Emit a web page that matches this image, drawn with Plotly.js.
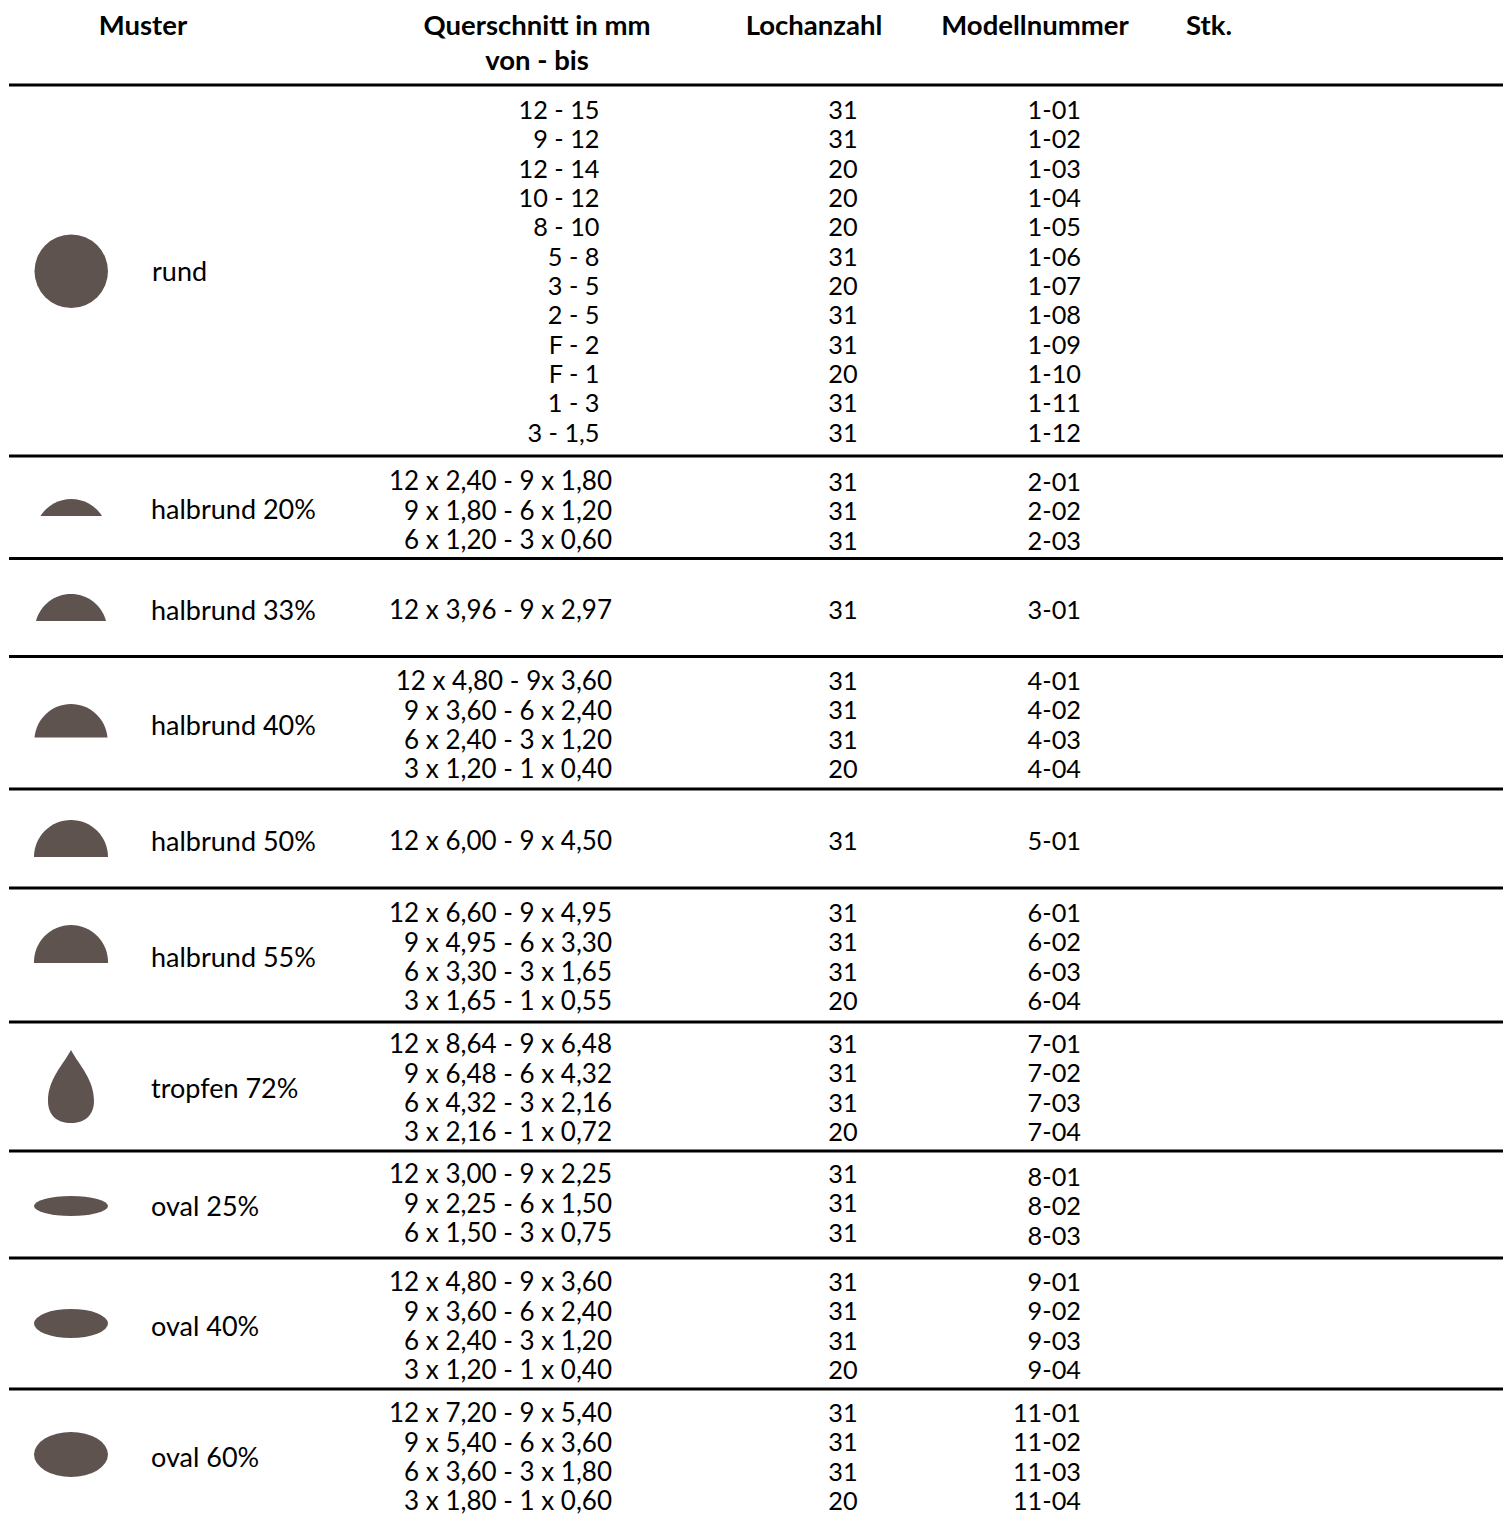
<!DOCTYPE html>
<html><head><meta charset="utf-8">
<script src="https://cdn.plot.ly/plotly-3.0.1.min.js"></script>
<style>html,body{margin:0;padding:0;background:#fff}</style></head>
<body><div id="chart" style="width:1504px;height:1515px"></div>
<script>
// ---- data ----
const headers = ["Muster","Querschnitt in mm","von - bis","Lochanzahl","Modellnummer","Stk."];
const patterns = ["rund","halbrund 20%","halbrund 33%","halbrund 40%","halbrund 50%","halbrund 55%","tropfen 72%","oval 25%","oval 40%","oval 60%"];
const sections = [
 ["12 - 15","9 - 12","12 - 14","10 - 12","8 - 10","5 - 8","3 - 5","2 - 5","F - 2","F - 1","1 - 3","3 - 1,5"],
 ["12 x 2,40 - 9 x 1,80","9 x 1,80 - 6 x 1,20","6 x 1,20 - 3 x 0,60"],
 ["12 x 3,96 - 9 x 2,97"],
 ["12 x 4,80 - 9x 3,60","9 x 3,60 - 6 x 2,40","6 x 2,40 - 3 x 1,20","3 x 1,20 - 1 x 0,40"],
 ["12 x 6,00 - 9 x 4,50"],
 ["12 x 6,60 - 9 x 4,95","9 x 4,95 - 6 x 3,30","6 x 3,30 - 3 x 1,65","3 x 1,65 - 1 x 0,55"],
 ["12 x 8,64 - 9 x 6,48","9 x 6,48 - 6 x 4,32","6 x 4,32 - 3 x 2,16","3 x 2,16 - 1 x 0,72"],
 ["12 x 3,00 - 9 x 2,25","9 x 2,25 - 6 x 1,50","6 x 1,50 - 3 x 0,75"],
 ["12 x 4,80 - 9 x 3,60","9 x 3,60 - 6 x 2,40","6 x 2,40 - 3 x 1,20","3 x 1,20 - 1 x 0,40"],
 ["12 x 7,20 - 9 x 5,40","9 x 5,40 - 6 x 3,60","6 x 3,60 - 3 x 1,80","3 x 1,80 - 1 x 0,60"]
];
const holes = [
 [31,31,20,20,20,31,20,31,31,20,31,31],[31,31,31],[31],[31,31,31,20],[31],
 [31,31,31,20],[31,31,31,20],[31,31,31],[31,31,31,20],[31,31,31,20]
];
const models = [
 ["1-01","1-02","1-03","1-04","1-05","1-06","1-07","1-08","1-09","1-10","1-11","1-12"],
 ["2-01","2-02","2-03"],["3-01"],["4-01","4-02","4-03","4-04"],["5-01"],
 ["6-01","6-02","6-03","6-04"],["7-01","7-02","7-03","7-04"],["8-01","8-02","8-03"],
 ["9-01","9-02","9-03","9-04"],["11-01","11-02","11-03","11-04"]
];

// ---- placement ----
const W = 1504, H = 1515, PITCH = 29.33, DY = 2.8;
const INK = "#000000", BROWN = "#5f5350";
const FONT = "Lato, Carlito, sans-serif";
const HEAD_SIZE = 27.5, LABEL_SIZE = 27, BODY_SIZE = 25.3, CROSS_SIZE = 26;
const headerX = [143,537,537,814,1035,1209], headerY = [25.5,25.5,60.5,25.5,25.5,25.5];
const rulesY = [85,456,558.5,656.5,789,888,1022,1151,1258,1389];
const labelY = [271.5,509,610,725,841,957,1088,1206,1326,1457];
const crossY = [110,481,610,681,841,913,1044,1174,1282,1413];
const holeY  = [110,482,610,681,841,913,1044,1174,1282,1413];
const modelY = [110,482,610,681,841,913,1044,1177,1282,1413];
const crossRight = [599.5,612,612,612,612,612,612,612,612,612];

function expand(list, starts){
  const xs=[], ys=[], ts=[];
  list.forEach((rows,s)=>rows.forEach((t,i)=>{ ys.push(starts[s]+i*PITCH); ts.push(String(t)); xs.push(s); }));
  return {sec:xs, y:ys, text:ts};
}
function textTrace(x,y,text,pos,size,bold){
  return {type:"scatter",mode:"text",x,y:y.map(v=>v+DY),text,textposition:pos,cliponaxis:false,hoverinfo:"skip",showlegend:false,
    textfont:{family:FONT,size,color:INK,weight:bold?700:400}};
}
const cross = expand(sections,crossY), hole = expand(holes,holeY), model = expand(models,modelY);
const rundOnly = s=>s===0;
const pick = (o,f)=>{const k=o.sec.map((s,i)=>f(s)?i:-1).filter(i=>i>=0);return {sec:k.map(i=>o.sec[i]),y:k.map(i=>o.y[i]),text:k.map(i=>o.text[i])};};
const crossA = pick(cross,rundOnly), crossB = pick(cross,s=>!rundOnly(s));
const data = [
  textTrace(headerX,headerY,headers,"middle center",HEAD_SIZE,true),
  textTrace(patterns.map((_,i)=>i===0?152:151),labelY,patterns,"middle right",LABEL_SIZE,false),
  textTrace(crossA.sec.map(s=>crossRight[s]),crossA.y,crossA.text,"middle left",BODY_SIZE,false),
  textTrace(crossB.sec.map(s=>crossRight[s]),crossB.y,crossB.text,"middle left",CROSS_SIZE,false),
  textTrace(hole.y.map(()=>843),hole.y,hole.text,"middle center",BODY_SIZE,false),
  textTrace(model.y.map(()=>1081),model.y,model.text,"middle left",BODY_SIZE,false)
];

// ---- pictograms ----
function ellipse(x0,x1,y0,y1){return {type:"circle",xref:"x",yref:"y",x0,x1,y0,y1,fillcolor:BROWN,line:{width:0}};}
function pathShape(path){return {type:"path",xref:"x",yref:"y",path,fillcolor:BROWN,line:{width:0}};}
function segment(x0,x1,yTop,yBase){
  // circular segment: chord on yBase, apex on yTop
  const w=(x1-x0)/2, h=yBase-yTop, R=(w*w+h*h)/(2*h), cx=(x0+x1)/2, cy=yTop+R;
  const a0=Math.atan2(yBase-cy,x0-cx), a1=Math.atan2(yBase-cy,x1-cx);
  let start=a0, end=a1; if(end<start) end+=2*Math.PI;
  const n=4, d=(end-start)/n, k=4/3*Math.tan(d/4);
  let p=`M${x0},${yBase}`;
  for(let i=0;i<n;i++){
    const t0=start+i*d,t1=t0+d;
    const ax=cx+R*Math.cos(t0),ay=cy+R*Math.sin(t0),bx=cx+R*Math.cos(t1),by=cy+R*Math.sin(t1);
    p+=`C${ax-k*R*Math.sin(t0)},${ay+k*R*Math.cos(t0)} ${bx+k*R*Math.sin(t1)},${by-k*R*Math.cos(t1)} ${bx},${by}`;
  }
  return pathShape(p+"Z");
}
function drop(cx,yTip,halfW,yBase){
  const yw=yBase-22;
  return pathShape(`M${cx},${yTip}C${cx+8},${yTip+15} ${cx+halfW},${yw-22} ${cx+halfW},${yw}`+
    `C${cx+halfW},${yBase-7} ${cx+13},${yBase} ${cx},${yBase}`+
    `C${cx-13},${yBase} ${cx-halfW},${yBase-7} ${cx-halfW},${yw}`+
    `C${cx-halfW},${yw-22} ${cx-8},${yTip+15} ${cx},${yTip}Z`);
}
const shapes = [
  ...rulesY.map(y=>({type:"line",xref:"x",yref:"y",x0:9,x1:1503,y0:y,y1:y,line:{color:INK,width:2.8}})),
  ellipse(34.5,108,234.5,308),
  segment(40.5,102,499,516),
  segment(36,106,594,621),
  segment(34.5,107.5,704,737.5),
  segment(34,108,820,857),
  segment(34,108,925,963),
  drop(71,1050,23,1123),
  ellipse(34,108,1196,1216),
  ellipse(34,108,1309,1338),
  ellipse(34,108,1432,1477)
];

const hidden = {visible:false,fixedrange:true,showgrid:false,zeroline:false};
Plotly.newPlot("chart",data,{
  width:W,height:H,margin:{l:0,r:0,t:0,b:0},showlegend:false,
  paper_bgcolor:"#fff",plot_bgcolor:"#fff",
  xaxis:{...hidden,range:[0,W]},
  yaxis:{...hidden,range:[H,0]},
  shapes
},{staticPlot:true,displayModeBar:false});
</script></body></html>
